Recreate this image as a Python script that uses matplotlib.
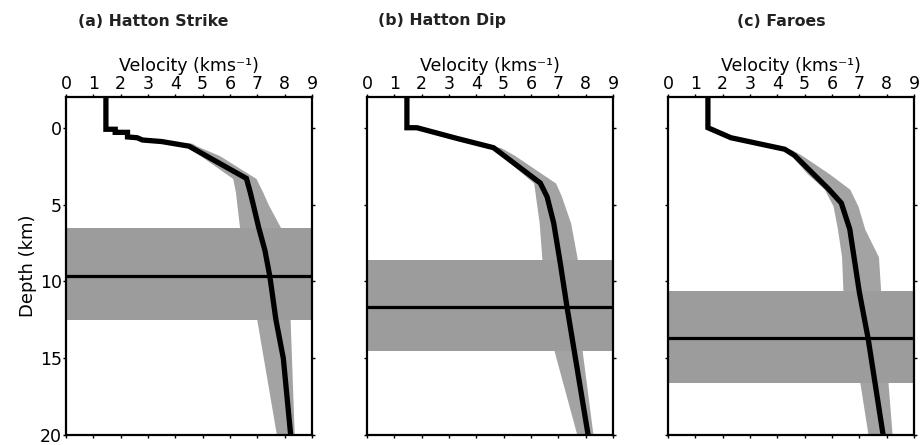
import matplotlib
matplotlib.use("Agg")
import matplotlib.pyplot as plt
import numpy as np

plt.rcParams['font.family'] = ['DejaVu Sans']

titles = ["(a) Hatton Strike", "(b) Hatton Dip", "(c) Faroes"]

# Best-fit velocity profiles (depth km, velocity km/s)
depth_a = [-2, 0.1, 0.1, 0.3, 0.3, 0.6, 0.65, 0.8, 0.9, 1.2, 3.3, 4.2, 5.0, 6.5, 8.0, 9.7, 12.5, 15.0, 20]
vel_a = [1.46, 1.46, 1.8, 1.8, 2.25, 2.25, 2.6, 2.8, 3.5, 4.5, 6.6, 6.74, 6.85, 7.05, 7.28, 7.46, 7.68, 7.95, 8.22]

depth_b = [-2, 0, 0, 0.7, 1.3, 3.6, 4.5, 6.2, 8.8, 11.7, 20]
vel_b = [1.46, 1.46, 1.83, 3.3, 4.63, 6.34, 6.59, 6.83, 7.07, 7.32, 8.09]

depth_c = [-2, 0, 0.65, 1.4, 1.8, 4.0, 4.9, 6.6, 10.7, 13.7, 20]
vel_c = [1.46, 1.46, 2.3, 4.27, 4.63, 5.88, 6.34, 6.65, 7.0, 7.32, 7.87]

# Envelope of accepted models (depth, min velocity, max velocity)
env_depth_a = [1.0, 1.2, 1.8, 3.3, 4.2, 5.0, 6.5, 12.5, 20]
env_min_a = [4.2, 4.35, 4.9, 6.1, 6.2, 6.25, 6.35, 6.98, 7.7]
env_max_a = [4.6, 4.8, 5.6, 6.95, 7.2, 7.4, 7.85, 8.2, 8.35]

env_depth_b = [0.7, 1.3, 1.8, 3.6, 4.4, 6.2, 8.6, 14.5, 20]
env_min_b = [3.2, 4.5, 4.9, 6.1, 6.16, 6.3, 6.4, 6.84, 7.68]
env_max_b = [3.4, 4.9, 5.4, 6.9, 7.1, 7.45, 7.7, 7.87, 8.27]

env_depth_c = [1.4, 1.8, 3.0, 4.0, 5.1, 6.6, 8.4, 10.6, 16.6, 20]
env_min_c = [4.2, 4.5, 5.1, 5.72, 6.04, 6.2, 6.35, 6.4, 7.02, 7.32]
env_max_c = [4.5, 4.9, 5.9, 6.65, 6.95, 7.2, 7.7, 7.78, 8.05, 8.2]

# Moho depth: best value and range
moho = [9.65, 11.7, 13.7]
moho_top = [6.5, 8.6, 10.6]
moho_bot = [12.5, 14.5, 16.6]

x_ticks = list(range(0, 10))
y_ticks = [0, 5, 10, 15, 20]

profiles = [(depth_a, vel_a), (depth_b, vel_b), (depth_c, vel_c)]
envelopes = [(env_depth_a, env_min_a, env_max_a),
             (env_depth_b, env_min_b, env_max_b),
             (env_depth_c, env_min_c, env_max_c)]

W, H = 922, 445
fig = plt.figure(figsize=(W / 100, H / 100), dpi=100)

lefts_px = [66, 367, 668]
title_px = [78, 378, 737]
ax_w = 246
top_px, bot_px = 97, 435

for i in range(3):
    ax = fig.add_axes([lefts_px[i] / W, (H - bot_px) / H, ax_w / W, (bot_px - top_px) / H])
    ed, emin, emax = envelopes[i]
    ax.fill_betweenx(ed, emin, emax, color='#a3a3a3', lw=0, zorder=1)
    ax.axhspan(moho_top[i], moho_bot[i], color='#9c9c9c', lw=0, zorder=2)
    ax.axhline(moho[i], color='black', lw=2.3, zorder=3)
    d, v = profiles[i]
    ax.plot(v, d, color='black', lw=3.8, solid_joinstyle='miter', zorder=4)
    ax.set_xlim(0, 9)
    ax.set_ylim(20, -2)
    ax.set_xticks(x_ticks)
    ax.set_yticks(y_ticks)
    ax.xaxis.set_label_position('top')
    ax.set_xlabel('Velocity (kms\u207b\u00b9)', fontsize=12.5, labelpad=3)
    ax.tick_params(axis='both', which='both', direction='out', length=2.5, width=1,
                   top=True, bottom=True, left=True, right=True,
                   labeltop=True, labelbottom=False, labelright=False,
                   labelleft=(i == 0), labelsize=12.5, pad=0.5)
    for s in ax.spines.values():
        s.set_linewidth(1.6)
    if i == 0:
        ax.set_ylabel('Depth (km)', fontsize=13, labelpad=2)
    fig.text(title_px[i] / W, 1 - 21 / H, titles[i], fontsize=11.3, fontweight='bold',
             ha='left', va='center', color='#222222')

fig.savefig('out.png', dpi=100)
